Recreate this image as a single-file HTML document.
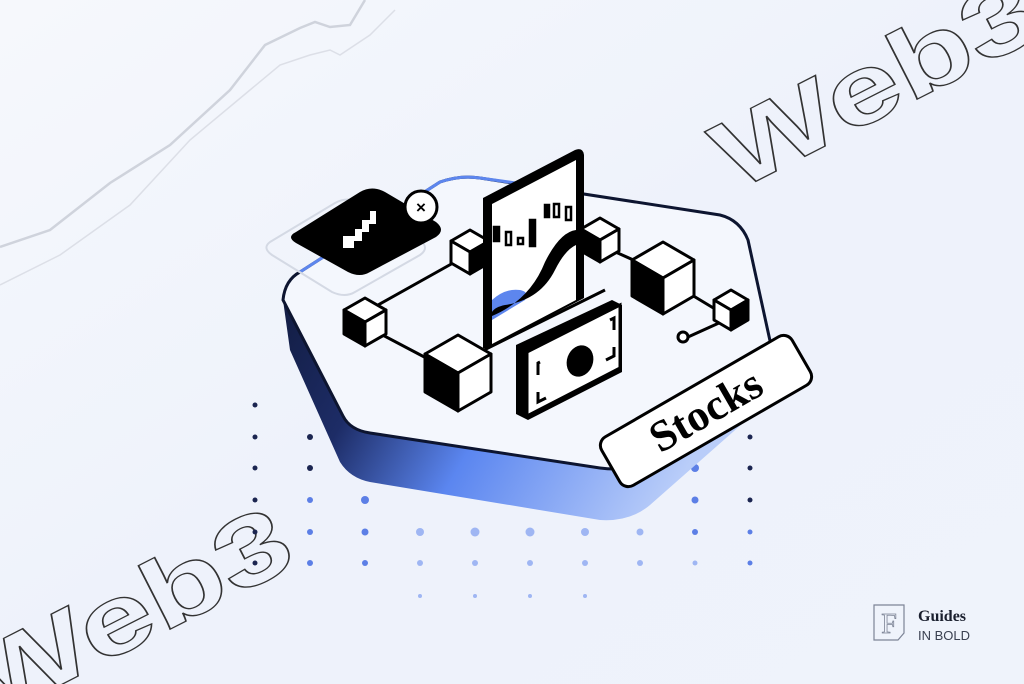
<!DOCTYPE html>
<html><head><meta charset="utf-8"><style>
html,body{margin:0;padding:0;width:1024px;height:684px;overflow:hidden;background:#f0f4fb}
svg{display:block}
</style></head><body>
<svg width="1024" height="684" viewBox="0 0 1024 684" xmlns="http://www.w3.org/2000/svg">
<defs>
<linearGradient id="bg" x1="0" y1="0" x2="1" y2="1">
<stop offset="0" stop-color="#f6f8fc"/><stop offset="0.5" stop-color="#eef2fb"/><stop offset="1" stop-color="#eff3fb"/>
</linearGradient>
<linearGradient id="side" x1="0" y1="0" x2="1" y2="0.4">
<stop offset="0" stop-color="#0d1530"/><stop offset="0.35" stop-color="#1d2c66"/><stop offset="0.6" stop-color="#5b86f0"/><stop offset="1" stop-color="#b9cdf9"/>
</linearGradient>
</defs>
<rect width="1024" height="684" fill="url(#bg)"/>
<polyline points="0,247 50,230 110,183 170,145 230,90 265,45 300,28 315,22 330,27 350,25 365,0" fill="none" stroke="#cfd3dc" stroke-width="2.5"/>
<polyline points="0,285 60,255 130,205 190,140 250,90 280,65 310,55 330,50 340,55 370,35 395,10" fill="none" stroke="#dcdfe7" stroke-width="1.5"/>
<text x="0" y="0" transform="translate(735,192) rotate(-27)" font-family="Liberation Sans, sans-serif" font-weight="bold" font-size="98" fill="none" stroke="#333" stroke-width="1.3" textLength="350" lengthAdjust="spacingAndGlyphs">Web3</text>
<text x="0" y="0" transform="translate(-12,722) rotate(-27)" font-family="Liberation Sans, sans-serif" font-weight="bold" font-size="98" fill="none" stroke="#333" stroke-width="1.3" textLength="350" lengthAdjust="spacingAndGlyphs">Web3</text>
<g>
<g fill="#1b2550">
<circle cx="255" cy="405" r="2.5"/><circle cx="255" cy="437" r="2.5"/><circle cx="255" cy="468" r="2.5"/><circle cx="255" cy="500" r="2.5"/><circle cx="255" cy="532" r="2.5"/><circle cx="255" cy="563" r="2.5"/>
<circle cx="310" cy="437" r="3"/><circle cx="310" cy="468" r="3"/>
<circle cx="750" cy="437" r="2.5"/><circle cx="750" cy="468" r="2.5"/><circle cx="750" cy="500" r="2.5"/>
</g>
<g fill="#5c7fe6">
<circle cx="310" cy="500" r="3"/><circle cx="310" cy="532" r="3"/><circle cx="310" cy="563" r="3"/>
<circle cx="365" cy="500" r="4"/><circle cx="365" cy="532" r="3.5"/><circle cx="365" cy="563" r="3"/>
<circle cx="695" cy="468" r="4"/><circle cx="695" cy="500" r="3.5"/><circle cx="695" cy="532" r="3"/>
<circle cx="750" cy="532" r="2.5"/><circle cx="750" cy="563" r="2.5"/>
</g>
<g fill="#9fb6f3">
<circle cx="420" cy="532" r="4"/><circle cx="475" cy="532" r="4.5"/><circle cx="530" cy="532" r="4.5"/><circle cx="585" cy="532" r="4"/><circle cx="640" cy="532" r="3.5"/>
<circle cx="420" cy="563" r="3"/><circle cx="475" cy="563" r="3"/><circle cx="530" cy="563" r="3"/><circle cx="585" cy="563" r="3"/><circle cx="640" cy="563" r="3"/><circle cx="695" cy="563" r="2.5"/>
<circle cx="420" cy="596" r="2"/><circle cx="475" cy="596" r="2"/><circle cx="530" cy="596" r="2"/><circle cx="585" cy="596" r="2"/>
</g>
</g>
<path d="M283 300 Q285 280 300 272 L440 182 Q460 175 480 178 L720 215 Q740 220 748 240 L775 355 L775 395 L650 505 Q630 522 600 520 L370 482 Q350 478 340 462 L290 350 Z" fill="url(#side)"/>
<path d="M283 300 Q285 280 300 272 L440 182 Q460 175 480 178 L720 215 Q740 220 748 240 L772 350 Q775 362 765 370 L650 460 Q630 472 600 468 L370 433 Q350 430 343 416 Z" fill="#f4f7fd" stroke="#0d1530" stroke-width="3"/>
<path d="M300 272 L440 182 Q460 175 480 178 L580 192" fill="none" stroke="#5d86ee" stroke-width="3"/>
<path d="M270 242 L335 203 Q348 196 360 203 L420 240 Q430 248 420 255 L355 292 Q345 298 332 292 L272 255 Q262 248 270 242 Z" fill="none" stroke="#d4d9e4" stroke-width="2"/>
<path d="M296 232 L360 192 Q372 185 385 192 L436 222 Q446 230 436 237 L370 272 Q360 278 348 272 L296 243 Q286 237 296 232 Z" fill="#000"/>
<path d="M343 236 L355 236 L355 229 L362 229 L362 220 L370 220 L370 211 L376 211 L376 224 L369 224 L369 232 L362 232 L362 241 L354 241 L354 248 L343 248 Z" fill="#fff"/>
<circle cx="421" cy="207" r="16" fill="#fff" stroke="#000" stroke-width="3"/>
<text x="421" y="213" text-anchor="middle" font-family="Liberation Sans, sans-serif" font-weight="bold" font-size="17">×</text>
<g stroke="#000" stroke-width="3" fill="none">
<line x1="378" y1="305" x2="462" y2="258"/>
<line x1="373" y1="330" x2="430" y2="360"/>
<line x1="480" y1="352" x2="605" y2="290"/>
<line x1="600" y1="245" x2="660" y2="272"/>
<line x1="672" y1="283" x2="720" y2="312"/>
<line x1="688" y1="337" x2="730" y2="318"/>
</g>
<circle cx="683" cy="337" r="5" fill="#fff" stroke="#000" stroke-width="3"/>
<g stroke="#000" stroke-width="3" stroke-linejoin="round">
<path d="M470 230 L489 241 L470 252 L451 241 Z" fill="#fff"/><path d="M451 241 L470 252 L470 274 L451 263 Z" fill="#fff"/><path d="M470 252 L489 241 L489 263 L470 274 Z" fill="#000"/>
<path d="M600 218 L619 229 L600 240 L581 229 Z" fill="#fff"/><path d="M581 229 L600 240 L600 262 L581 251 Z" fill="#000"/><path d="M600 240 L619 229 L619 251 L600 262 Z" fill="#fff"/>
<path d="M365 298 L386 310 L365 322 L344 310 Z" fill="#fff"/><path d="M344 310 L365 322 L365 346 L344 334 Z" fill="#000"/><path d="M365 322 L386 310 L386 334 L365 346 Z" fill="#fff"/>
<path d="M458 335 L491 354 L458 373 L425 354 Z" fill="#fff"/><path d="M425 354 L458 373 L458 411 L425 392 Z" fill="#000"/><path d="M458 373 L491 354 L491 392 L458 411 Z" fill="#fff"/>
<path d="M663 242 L694 260 L663 278 L632 260 Z" fill="#fff"/><path d="M632 260 L663 278 L663 314 L632 296 Z" fill="#000"/><path d="M663 278 L694 260 L694 296 L663 314 Z" fill="#fff"/>
<path d="M731 290 L748 300 L731 310 L714 300 Z" fill="#fff"/><path d="M714 300 L731 310 L731 330 L714 320 Z" fill="#fff"/><path d="M731 310 L748 300 L748 320 L731 330 Z" fill="#000"/>
</g>
<path d="M483 198 L575 150 Q583 147 584 155 L584 298 L490 348 L483 348 Z" fill="#000"/>
<path d="M492 204 L576 160 L576 300 L492 344 Z" fill="#fff"/>
<path d="M492 300 Q505 288 520 290 Q530 292 525 300 L492 320 Z" fill="#5d86ee"/>
<path d="M492 316 Q530 300 545 262 Q560 232 576 230 L576 245 Q565 250 555 270 Q540 300 505 305 Q495 307 492 312 Z" fill="#000"/>
<g fill="#fff" stroke="#000" stroke-width="2.5">
<rect x="494" y="227" width="5" height="14" fill="#000"/><rect x="506" y="232" width="5" height="13"/><rect x="518" y="238" width="5" height="6"/><rect x="530" y="220" width="5" height="26" fill="#000"/><rect x="545" y="205" width="4" height="12" fill="#000"/><rect x="554" y="204" width="5" height="13"/><rect x="566" y="207" width="5" height="13"/>
</g>
<path d="M516 345 L612 300 L622 305 L622 372 L528 420 L516 414 Z" fill="#000"/>
<path d="M527 352 L620 305 L620 368 L527 416 Z" fill="#fff" stroke="#000" stroke-width="3"/>
<ellipse cx="580" cy="361" rx="13" ry="16" transform="rotate(20 580 361)" fill="#000"/>
<g stroke="#000" stroke-width="3" fill="none">
<path d="M540 362 L538 363 L538 375"/><path d="M538 392 L538 402 L546 398"/><path d="M610 320 L614 318 L614 330"/><path d="M614 347 L614 356 L606 360"/>
</g>
<g transform="translate(706,411) rotate(-30)">
<rect x="-110" y="-28" width="220" height="56" rx="10" fill="#fff" stroke="#000" stroke-width="3"/>
<text x="0" y="14" text-anchor="middle" font-family="Liberation Serif, serif" font-weight="bold" font-size="44">Stocks</text>
</g>
<path d="M874 605 L904 605 L904 633 L898 640 L874 640 Z" fill="none" stroke="#7d8496" stroke-width="1.2"/>
<text x="889" y="633" text-anchor="middle" font-family="Liberation Serif, serif" font-size="28" fill="none" stroke="#7d8496" stroke-width="0.8">F</text>
<text x="918" y="621" font-family="Liberation Serif, serif" font-weight="bold" font-size="16" fill="#1a1f2e">Guides</text>
<text x="918" y="640" font-family="Liberation Sans, sans-serif" font-size="13" fill="#3a4050">IN BOLD</text>
</svg>
</body></html>
